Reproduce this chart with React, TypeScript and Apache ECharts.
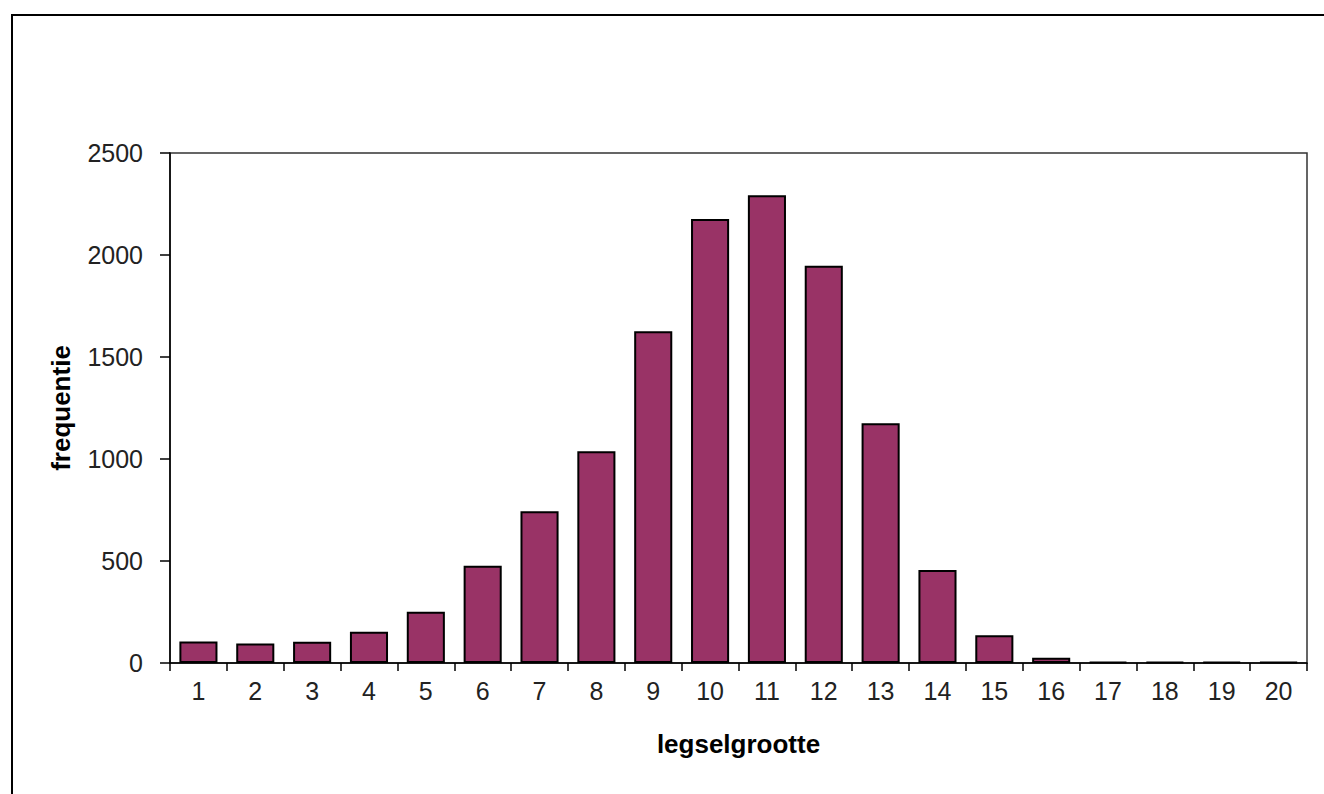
import React, { useEffect, useRef } from "react";
import * as echarts from "echarts";

const categories = ["1","2","3","4","5","6","7","8","9","10","11","12","13","14","15","16","17","18","19","20"];
const frequencies = [105, 96, 104, 153, 251, 477, 744, 1038, 1626, 2176, 2293, 1947, 1175, 456, 136, 26, 6, 5, 5, 4];
const yTicks = { min: 0, max: 2500, interval: 500 };

export default function App() {
  const ref = useRef<HTMLDivElement>(null);
  useEffect(() => {
    if (!ref.current) return;
    const chart = echarts.init(ref.current, null, { renderer: "svg" });
    chart.setOption({
      animation: false,
      backgroundColor: "#ffffff",
      textStyle: { fontFamily: "Liberation Sans, Arial, sans-serif" },
      graphic: [
        {
          type: "rect",
          shape: { x: 12, y: 15, width: 1320, height: 800 },
          style: { fill: "none", stroke: "#000", lineWidth: 2 },
          silent: true,
        },
      ],
      grid: {
        left: 170,
        top: 153,
        right: 17,
        bottom: 131,
        show: true,
        borderColor: "#333",
        borderWidth: 1.5,
      },
      xAxis: {
        type: "category",
        data: categories,
        name: "legselgrootte",
        nameLocation: "middle",
        nameGap: 68,
        nameTextStyle: { fontSize: 26, fontWeight: "bold", color: "#000", fontFamily: "Liberation Sans, Arial, sans-serif" },
        axisLine: { lineStyle: { color: "#000", width: 1.5 } },
        axisTick: { show: true, length: 8, lineStyle: { color: "#000", width: 1.5 } },
        axisLabel: { fontSize: 25, color: "#222", margin: 15 },
        splitLine: { show: false },
      },
      yAxis: {
        type: "value",
        min: yTicks.min,
        max: yTicks.max,
        interval: yTicks.interval,
        name: "frequentie",
        nameLocation: "middle",
        nameGap: 96,
        nameRotate: 90,
        nameTextStyle: { fontSize: 26, fontWeight: "bold", color: "#000", fontFamily: "Liberation Sans, Arial, sans-serif" },
        axisLine: { show: true, lineStyle: { color: "#000", width: 1.5 } },
        axisTick: { show: true, length: 10, lineStyle: { color: "#000", width: 1.5 } },
        axisLabel: { fontSize: 25, color: "#222", margin: 27, formatter: (v: number) => String(v) },
        splitLine: { show: false },
      },
      series: [
        {
          type: "bar",
          data: frequencies,
          barCategoryGap: "33%",
          itemStyle: { color: "#993366", borderColor: "#000", borderWidth: 2 },
        },
      ],
    });
    return () => chart.dispose();
  }, []);
  return (
    <div
      ref={ref}
      style={{ position: "fixed", left: 0, top: 0, width: 1324, height: 794 }}
    />
  );
}
